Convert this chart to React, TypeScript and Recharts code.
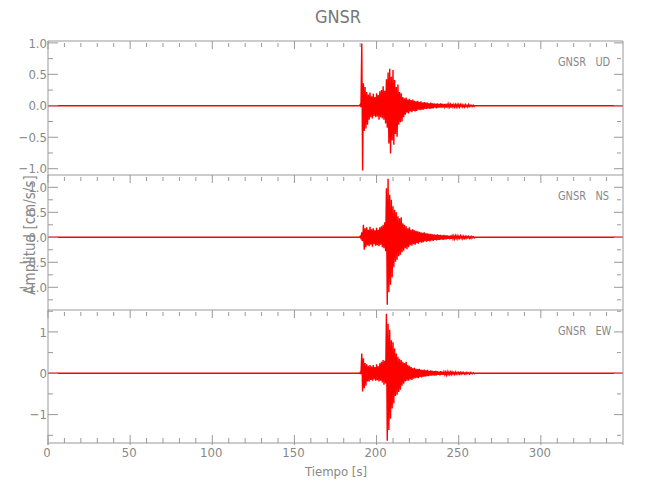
import { LineChart, Line, XAxis, YAxis } from 'recharts'

const TITLE = 'GNSR'
const X_TITLE = 'Tiempo [s]'
const Y_TITLE = 'Amplitud [cm/s/s]'
const X_DOMAIN = [0, 350]
const X_MAJOR = [0, 50, 100, 150, 200, 250, 300]
const X_MINOR = [10, 20, 30, 40, 60, 70, 80, 90, 110, 120, 130, 140, 160, 170, 180, 190, 210, 220, 230, 240, 260, 270, 280, 290, 310, 320, 330, 340]

// peaks, one up/down pair per second from EVENT_T0
const EVENT_T0 = 190

const UD_UP = [
  0.02, 0.99, 0.36, 0.3, 0.22, 0.18, 0.21, 0.15, 0.19, 0.14,
  0.2, 0.17, 0.23, 0.25, 0.31, 0.24, 0.42, 0.53, 0.59, 0.46,
  0.57, 0.41, 0.3, 0.34, 0.22, 0.2, 0.14, 0.12, 0.13, 0.1,
  0.11, 0.09, 0.1, 0.08, 0.07, 0.08, 0.06, 0.07, 0.05, 0.06,
  0.05, 0.05, 0.04, 0.05, 0.04, 0.04, 0.03, 0.04, 0.03, 0.04,
  0.03, 0.03, 0.03, 0.02, 0.03, 0.02, 0.03, 0.02, 0.02, 0.02,
  0.02, 0.02, 0.02, 0.01, 0.02, 0.01, 0.02, 0.01, 0.01, 0.01,
]
const UD_DN = [
  0.02, 1.03, 0.4, 0.36, 0.3, 0.22, 0.18, 0.2, 0.16, 0.18,
  0.17, 0.22, 0.18, 0.2, 0.22, 0.28, 0.35, 0.6, 0.76, 0.55,
  0.62, 0.45, 0.49, 0.3, 0.26, 0.25, 0.18, 0.14, 0.11, 0.12,
  0.09, 0.1, 0.08, 0.09, 0.08, 0.06, 0.07, 0.06, 0.06, 0.05,
  0.05, 0.04, 0.05, 0.04, 0.04, 0.03, 0.04, 0.03, 0.03, 0.03,
  0.03, 0.02, 0.03, 0.02, 0.02, 0.03, 0.02, 0.02, 0.02, 0.02,
  0.02, 0.01, 0.02, 0.02, 0.01, 0.02, 0.01, 0.01, 0.01, 0.01,
]
const NS_UP = [
  0.02, 0.1, 0.25, 0.18, 0.2, 0.15, 0.21, 0.16, 0.18, 0.14,
  0.19, 0.15, 0.2, 0.22, 0.25, 0.3, 0.98, 1.17, 0.85, 0.75,
  0.62, 0.55, 0.5, 0.42, 0.38, 0.4, 0.28, 0.25, 0.22, 0.18,
  0.2, 0.15, 0.16, 0.14, 0.13, 0.12, 0.11, 0.1, 0.09, 0.1,
  0.08, 0.08, 0.07, 0.07, 0.06, 0.06, 0.05, 0.06, 0.05, 0.05,
  0.04, 0.05, 0.04, 0.04, 0.03, 0.04, 0.03, 0.03, 0.03, 0.03,
  0.02, 0.03, 0.02, 0.02, 0.02, 0.02, 0.02, 0.01, 0.02, 0.01,
]
const NS_DN = [
  0.02, 0.08, 0.25, 0.2, 0.16, 0.18, 0.15, 0.19, 0.14, 0.17,
  0.16, 0.18, 0.15, 0.2, 0.22, 0.28, 1.35, 1.1, 0.95, 0.8,
  0.6, 0.49, 0.45, 0.38, 0.35, 0.3, 0.27, 0.22, 0.24, 0.2,
  0.16, 0.17, 0.14, 0.15, 0.12, 0.13, 0.1, 0.11, 0.1, 0.08,
  0.09, 0.07, 0.08, 0.06, 0.07, 0.05, 0.06, 0.05, 0.05, 0.04,
  0.05, 0.04, 0.04, 0.03, 0.04, 0.03, 0.03, 0.03, 0.02, 0.03,
  0.02, 0.02, 0.03, 0.02, 0.02, 0.01, 0.02, 0.02, 0.01, 0.01,
]
const EW_UP = [
  0.02, 0.48, 0.36, 0.25, 0.22, 0.18, 0.2, 0.16, 0.2, 0.15,
  0.22, 0.17, 0.24, 0.28, 0.32, 0.3, 1.44, 1.2, 1.05, 0.8,
  0.75, 0.6, 0.48, 0.4, 0.35, 0.32, 0.28, 0.25, 0.28, 0.2,
  0.18, 0.15, 0.12, 0.13, 0.11, 0.1, 0.11, 0.09, 0.08, 0.09,
  0.07, 0.08, 0.06, 0.07, 0.06, 0.05, 0.06, 0.05, 0.04, 0.05,
  0.04, 0.04, 0.03, 0.04, 0.03, 0.03, 0.03, 0.02, 0.03, 0.02,
  0.02, 0.02, 0.02, 0.02, 0.01, 0.02, 0.01, 0.02, 0.01, 0.01,
]
const EW_DN = [
  0.02, 0.44, 0.36, 0.3, 0.2, 0.2, 0.16, 0.18, 0.15, 0.18,
  0.17, 0.2, 0.18, 0.22, 0.28, 0.25, 1.63, 1.37, 1.1, 0.85,
  0.73, 0.55, 0.52, 0.45, 0.4, 0.3, 0.25, 0.2, 0.18, 0.18,
  0.15, 0.16, 0.13, 0.12, 0.11, 0.12, 0.09, 0.1, 0.08, 0.08,
  0.07, 0.07, 0.06, 0.06, 0.05, 0.06, 0.05, 0.04, 0.05, 0.04,
  0.04, 0.03, 0.04, 0.03, 0.03, 0.03, 0.02, 0.03, 0.02, 0.02,
  0.02, 0.02, 0.01, 0.02, 0.02, 0.01, 0.02, 0.01, 0.01, 0.01,
]

const UD_DOMAIN = [-1.1, 1.03]
const NS_DOMAIN = [-1.454, 1.246]
const EW_DOMAIN = [-1.735, 1.53]
const UD_TICKS = [-1, -0.5, 0, 0.5, 1]
const NS_TICKS = [-1, -0.5, 0, 0.5, 1]
const EW_TICKS = [-1, 0, 1]
const UD_MINOR = [-0.75, -0.25, 0.25, 0.75]
const NS_MINOR = [-1.25, -0.75, -0.25, 0.25, 0.75]
const EW_MINOR = [-1.5, -0.5, 0.5, 1.5]

const AXIS = '#999'
const TEXT = '#888'
const FONT = '"Liberation Sans Narrow", "DejaVu Sans Condensed", "Liberation Sans", sans-serif'
const RED = '#ff0000'

function buildTrace(up: number[], dn: number[]) {
  const pts = [
    { t: 0, v: 0 },
    { t: EVENT_T0 - 0.5, v: 0 },
  ]
  up.forEach((u, i) => {
    pts.push({ t: EVENT_T0 + i, v: u })
    pts.push({ t: EVENT_T0 + i + 0.5, v: -dn[i] })
  })
  pts.push({ t: EVENT_T0 + up.length, v: 0 })
  pts.push({ t: X_DOMAIN[1], v: 0 })
  return pts
}

const fmt1 = (v: number) => v.toFixed(1).replace('-', '\u2212')
const fmt0 = (v: number) => v.toFixed(0).replace('-', '\u2212')

// tick lines only, no label
const NoLabel = () => <g />

interface PanelProps {
  top: number
  plotH: number
  domain: number[]
  ticks: number[]
  minor: number[]
  up: number[]
  dn: number[]
  fmt: (v: number) => string
  last?: boolean
}

// mirror axes take no room and their ticks point into the plot, like the IDL frame
function Panel({ top, plotH, domain, ticks, minor, up, dn, fmt, last }: PanelProps) {
  const data = buildTrace(up, dn)
  const bottomH = last ? 25 : 0
  return (
    <div style={{ position: 'absolute', left: 0, top: top - 5 }}>
      <LineChart
        width={650}
        height={plotH + 10 + bottomH}
        data={data}
        margin={{ top: 5, right: 27, bottom: 5, left: 0 }}
      >
        <XAxis xAxisId="t" dataKey="t" type="number" orientation="top" mirror domain={X_DOMAIN} allowDataOverflow
          ticks={X_MAJOR} interval={0} height={2} tickSize={8} tick={NoLabel} stroke={AXIS} />
        <XAxis xAxisId="tm" dataKey="t" type="number" orientation="top" mirror domain={X_DOMAIN} allowDataOverflow
          ticks={X_MINOR} interval={0} height={2} tickSize={4} tick={NoLabel} axisLine={false} stroke={AXIS} />
        {last && (
          <XAxis xAxisId="bm" dataKey="t" type="number" orientation="bottom" mirror domain={X_DOMAIN} allowDataOverflow
            ticks={X_MINOR} interval={0} height={2} tickSize={5} tick={NoLabel} stroke={AXIS} />
        )}
        {last && (
          <XAxis xAxisId="bj" dataKey="t" type="number" orientation="bottom" mirror domain={X_DOMAIN} allowDataOverflow
            ticks={X_MAJOR} interval={0} height={2} tickSize={10} tick={NoLabel} axisLine={false} stroke={AXIS} />
        )}
        {last && (
          <XAxis xAxisId="b" dataKey="t" type="number" orientation="bottom" domain={X_DOMAIN} allowDataOverflow
            ticks={X_MAJOR} interval={0} height={bottomH} tickLine={false} axisLine={false} tickSize={0} tickMargin={3}
            tick={{ fill: TEXT, fontSize: 13, fontFamily: FONT, dx: -1 }} />
        )}
        <YAxis yAxisId="l" dataKey="v" type="number" domain={domain} allowDataOverflow ticks={ticks} interval={0}
          width={48} tickSize={-10} tickMargin={11} tickFormatter={fmt}
          tick={{ fill: TEXT, fontSize: 13, fontFamily: FONT }} stroke={AXIS} />
        <YAxis yAxisId="lm" dataKey="v" type="number" domain={domain} allowDataOverflow ticks={minor} interval={0}
          mirror width={2} tickSize={5} tick={NoLabel} axisLine={false} stroke={AXIS} />
        <YAxis yAxisId="r" dataKey="v" type="number" orientation="right" mirror domain={domain} allowDataOverflow
          ticks={ticks} interval={0} width={2} tickSize={9} tick={NoLabel} stroke={AXIS} />
        <YAxis yAxisId="rm" dataKey="v" type="number" orientation="right" mirror domain={domain} allowDataOverflow
          ticks={minor} interval={0} width={2} tickSize={4} tick={NoLabel} axisLine={false} stroke={AXIS} />
        <Line xAxisId="t" yAxisId="l" type="linear" dataKey="v" stroke={RED} strokeWidth={1.4}
          dot={false} activeDot={false} isAnimationActive={false} />
      </LineChart>
    </div>
  )
}

const txt = { position: 'absolute' as const, fontFamily: FONT, color: TEXT, whiteSpace: 'pre' as const, lineHeight: 1 }
const panelLabel = { ...txt, left: 558, fontSize: 13, transform: 'scaleX(0.84)', transformOrigin: 'left top' }

export default function App() {
  return (
    <div style={{ position: 'absolute', left: 0, top: 0, width: 650, height: 500, background: '#fff' }}>
      <Panel top={41} plotH={134} domain={UD_DOMAIN} ticks={UD_TICKS} minor={UD_MINOR} up={UD_UP} dn={UD_DN} fmt={fmt1} />
      <Panel top={175} plotH={135} domain={NS_DOMAIN} ticks={NS_TICKS} minor={NS_MINOR} up={NS_UP} dn={NS_DN} fmt={fmt1} />
      <Panel top={310} plotH={135} domain={EW_DOMAIN} ticks={EW_TICKS} minor={EW_MINOR} up={EW_UP} dn={EW_DN} fmt={fmt0} last />

      <div style={{ ...txt, left: 0, width: 676, top: 8, textAlign: 'center', fontSize: 18, color: '#777' }}>{TITLE}</div>
      <div style={{ ...panelLabel, top: 55 }}>{'GNSR   UD'}</div>
      <div style={{ ...panelLabel, top: 189 }}>{'GNSR   NS'}</div>
      <div style={{ ...panelLabel, top: 324 }}>{'GNSR   EW'}</div>
      <div style={{ ...txt, left: 0, width: 672, top: 465, textAlign: 'center', fontSize: 13 }}>{X_TITLE}</div>
      <div style={{ ...txt, left: 30, top: 235, fontSize: 15, transform: 'translate(-50%, -50%) rotate(-90deg)' }}>{Y_TITLE}</div>
    </div>
  )
}
